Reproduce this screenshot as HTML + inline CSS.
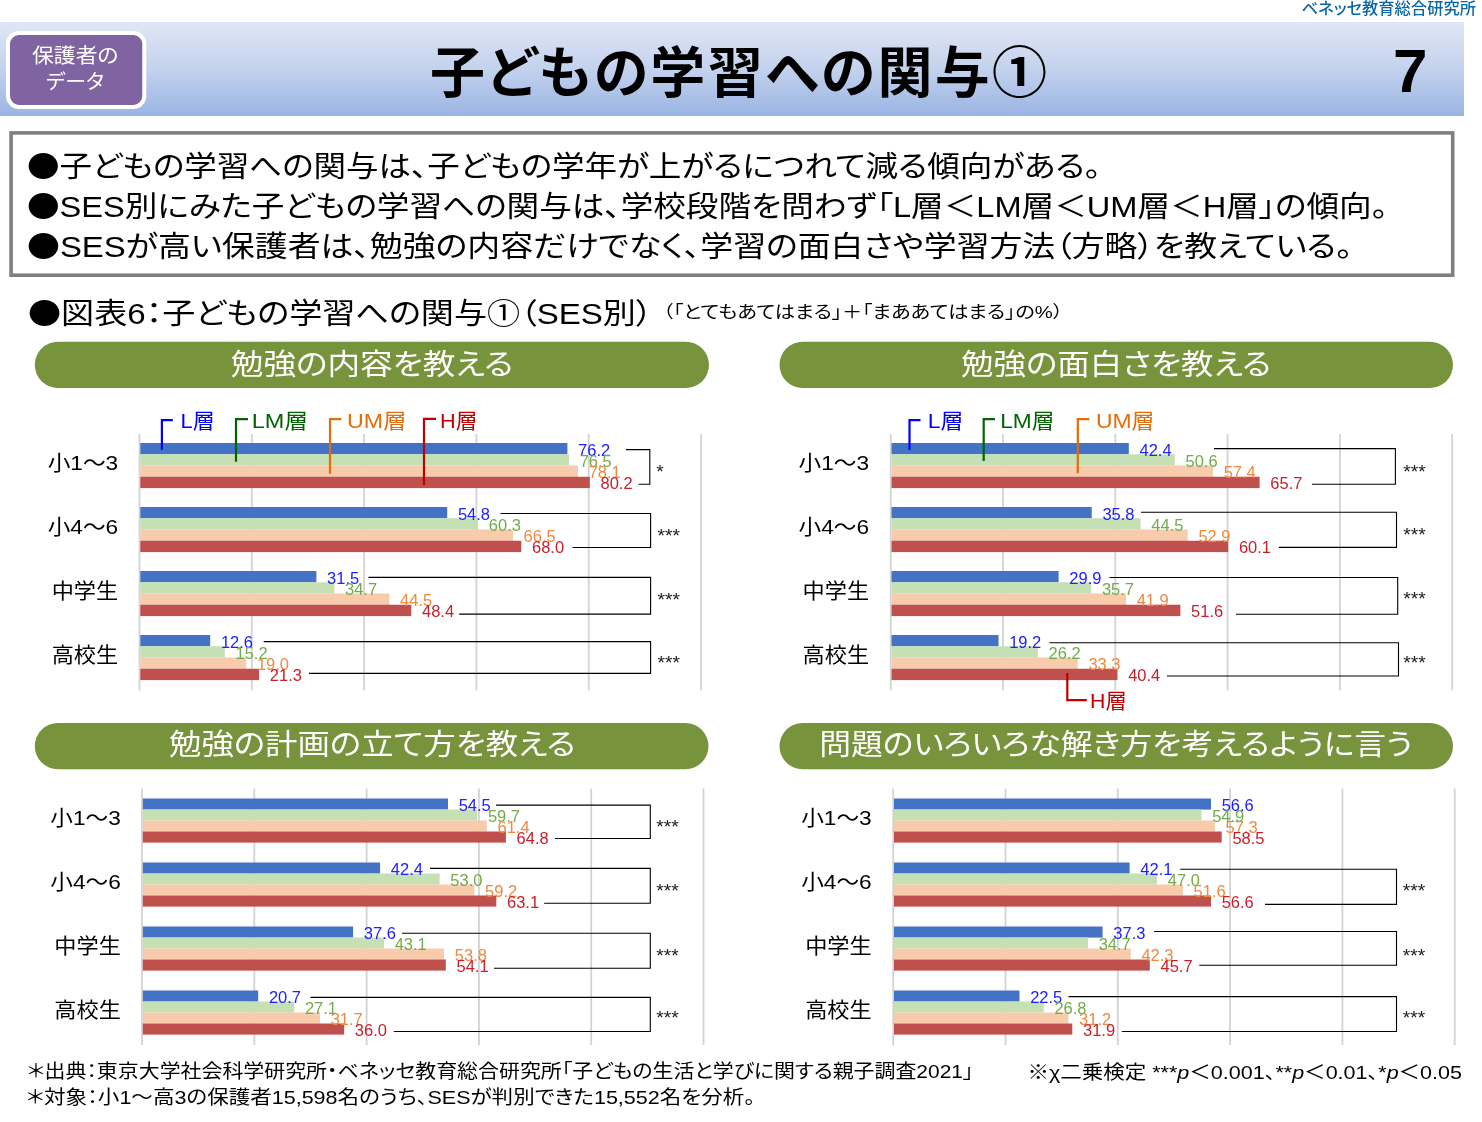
<!DOCTYPE html>
<html lang="ja"><head><meta charset="utf-8"><title>子どもの学習への関与①</title>
<style>
html,body{margin:0;padding:0;background:#fff;}
body{width:1482px;height:1122px;overflow:hidden;}
svg{display:block;}
text{font-family:"Liberation Sans", "Noto Sans CJK JP", sans-serif;font-feature-settings:"palt" 1;white-space:pre;}
text.n{font-family:"Liberation Sans", sans-serif;font-feature-settings:normal;}
</style></head><body>
<svg width="1482" height="1122" viewBox="0 0 1482 1122">
<defs><linearGradient id="bg" x1="0" y1="0" x2="0" y2="1"><stop offset="0" stop-color="#e1e6f5"/><stop offset="0.5" stop-color="#c3d2ed"/><stop offset="1" stop-color="#9ab4e3"/></linearGradient></defs>
<rect x="0" y="22" width="1464" height="94" fill="url(#bg)"/>
<rect x="8" y="33" width="136.3" height="74" rx="11" ry="11" fill="#8064a2" stroke="#fff" stroke-width="4"/>
<text x="1301.5" y="13.6" font-size="15.8" fill="#0b66a8" textLength="174.5" lengthAdjust="spacingAndGlyphs" font-weight="500">ベネッセ教育総合研究所</text>
<text x="32.0" y="63.3" font-size="20.5" fill="#fff" textLength="86.5" lengthAdjust="spacingAndGlyphs">保護者の</text>
<text x="46.0" y="89.0" font-size="20.5" fill="#fff" textLength="58.0" lengthAdjust="spacingAndGlyphs">データ</text>
<text x="430.0" y="91.5" font-size="55" fill="#000" textLength="617.0" lengthAdjust="spacing" font-weight="bold">子どもの学習への関与①</text>
<text x="1393.0" y="92.3" font-size="62" fill="#000" font-weight="bold">7</text>
<rect x="11.1" y="132.9" width="1441.6" height="142.3" fill="#fff" stroke="#7f7f7f" stroke-width="3.6"/>
<text x="27.0" y="176.5" font-size="29" fill="#000" textLength="1074.0" lengthAdjust="spacingAndGlyphs"><tspan font-family="Noto Sans CJK JP, sans-serif">●</tspan>子どもの学習への関与は、子どもの学年が上がるにつれて減る傾向がある。</text>
<text x="27.0" y="217.3" font-size="29" fill="#000" textLength="1361.0" lengthAdjust="spacingAndGlyphs"><tspan font-family="Noto Sans CJK JP, sans-serif">●</tspan>SES別にみた子どもの学習への関与は、学校段階を問わず「L層＜LM層＜UM層＜H層」の傾向。</text>
<text x="27.0" y="257.2" font-size="29" fill="#000" textLength="1325.5" lengthAdjust="spacingAndGlyphs"><tspan font-family="Noto Sans CJK JP, sans-serif">●</tspan>SESが高い保護者は、勉強の内容だけでなく、学習の面白さや学習方法（方略）を教えている。</text>
<text x="28.0" y="323.5" font-size="29" fill="#000" textLength="624.5" lengthAdjust="spacingAndGlyphs"><tspan font-family="Noto Sans CJK JP, sans-serif">●</tspan>図表6：子どもの学習への関与①（SES別）</text>
<text x="663.0" y="317.7" font-size="17" fill="#000" textLength="400.0" lengthAdjust="spacingAndGlyphs">（「とてもあてはまる」＋「まああてはまる」の%）</text>
<rect x="34.8" y="341.7" width="674.2" height="46.30000000000001" rx="23.150000000000006" ry="23.150000000000006" fill="#77933c"/>
<text x="230.8" y="374.5" font-size="29" fill="#fff" textLength="282.4" lengthAdjust="spacingAndGlyphs">勉強の内容を教える</text>
<rect x="779.5" y="341.7" width="673.5" height="46.30000000000001" rx="23.150000000000006" ry="23.150000000000006" fill="#77933c"/>
<text x="961.0" y="374.5" font-size="29" fill="#fff" textLength="310.0" lengthAdjust="spacingAndGlyphs">勉強の面白さを教える</text>
<rect x="34.8" y="723.1" width="673.7" height="46.19999999999993" rx="23.099999999999966" ry="23.099999999999966" fill="#77933c"/>
<text x="169.0" y="755.3" font-size="29" fill="#fff" textLength="406.5" lengthAdjust="spacingAndGlyphs">勉強の計画の立て方を教える</text>
<rect x="779.5" y="723.1" width="673.5" height="46.19999999999993" rx="23.099999999999966" ry="23.099999999999966" fill="#77933c"/>
<text x="819.2" y="755.3" font-size="29" fill="#fff" textLength="593.4" lengthAdjust="spacingAndGlyphs">問題のいろいろな解き方を考えるように言う</text>
<rect x="138.60" y="434" width="1.8" height="256.5" fill="#d3d3d3"/>
<rect x="250.90" y="434" width="1.8" height="256.5" fill="#d3d3d3"/>
<rect x="363.20" y="434" width="1.8" height="256.5" fill="#d3d3d3"/>
<rect x="475.50" y="434" width="1.8" height="256.5" fill="#d3d3d3"/>
<rect x="587.80" y="434" width="1.8" height="256.5" fill="#d3d3d3"/>
<rect x="700.10" y="434" width="1.8" height="256.5" fill="#d3d3d3"/>
<rect x="140.3" y="443.00" width="427.1" height="11.35" fill="#4472c4"/>
<rect x="140.3" y="454.25" width="428.7" height="11.35" fill="#c5e0b4"/>
<rect x="140.3" y="465.50" width="437.7" height="11.35" fill="#f8cbad"/>
<rect x="140.3" y="476.75" width="449.5" height="11.35" fill="#c0504d"/>
<text x="578.1" y="455.6" font-size="15.8" fill="#2020ff" textLength="32.1" lengthAdjust="spacingAndGlyphs" class="n">76.2</text>
<text x="579.7" y="466.7" font-size="15.8" fill="#70ad47" textLength="32.1" lengthAdjust="spacingAndGlyphs" class="n">76.5</text>
<text x="588.7" y="477.7" font-size="15.8" fill="#f0883e" textLength="32.1" lengthAdjust="spacingAndGlyphs" class="n">78.1</text>
<text x="600.5" y="488.7" font-size="15.8" fill="#c8202c" textLength="32.1" lengthAdjust="spacingAndGlyphs" class="n">80.2</text>
<text x="47.7" y="470.0" font-size="21" fill="#000" textLength="70.5" lengthAdjust="spacingAndGlyphs">小1～3</text>
<rect x="140.3" y="507.00" width="306.9" height="11.35" fill="#4472c4"/>
<rect x="140.3" y="518.25" width="337.8" height="11.35" fill="#c5e0b4"/>
<rect x="140.3" y="529.50" width="372.6" height="11.35" fill="#f8cbad"/>
<rect x="140.3" y="540.75" width="381.0" height="11.35" fill="#c0504d"/>
<text x="457.9" y="519.6" font-size="15.8" fill="#2020ff" textLength="32.1" lengthAdjust="spacingAndGlyphs" class="n">54.8</text>
<text x="488.8" y="530.7" font-size="15.8" fill="#70ad47" textLength="32.1" lengthAdjust="spacingAndGlyphs" class="n">60.3</text>
<text x="523.6" y="541.7" font-size="15.8" fill="#f0883e" textLength="32.1" lengthAdjust="spacingAndGlyphs" class="n">66.5</text>
<text x="532.0" y="552.7" font-size="15.8" fill="#c8202c" textLength="32.1" lengthAdjust="spacingAndGlyphs" class="n">68.0</text>
<text x="47.7" y="534.0" font-size="21" fill="#000" textLength="70.5" lengthAdjust="spacingAndGlyphs">小4～6</text>
<rect x="140.3" y="571.00" width="176.1" height="11.35" fill="#4472c4"/>
<rect x="140.3" y="582.25" width="194.0" height="11.35" fill="#c5e0b4"/>
<rect x="140.3" y="593.50" width="249.1" height="11.35" fill="#f8cbad"/>
<rect x="140.3" y="604.75" width="271.0" height="11.35" fill="#c0504d"/>
<text x="327.1" y="583.6" font-size="15.8" fill="#2020ff" textLength="32.1" lengthAdjust="spacingAndGlyphs" class="n">31.5</text>
<text x="345.0" y="594.7" font-size="15.8" fill="#70ad47" textLength="32.1" lengthAdjust="spacingAndGlyphs" class="n">34.7</text>
<text x="400.1" y="605.7" font-size="15.8" fill="#f0883e" textLength="32.1" lengthAdjust="spacingAndGlyphs" class="n">44.5</text>
<text x="422.0" y="616.7" font-size="15.8" fill="#c8202c" textLength="32.1" lengthAdjust="spacingAndGlyphs" class="n">48.4</text>
<text x="51.7" y="598.0" font-size="21" fill="#000" textLength="66.5" lengthAdjust="spacingAndGlyphs">中学生</text>
<rect x="140.3" y="635.00" width="69.9" height="11.35" fill="#4472c4"/>
<rect x="140.3" y="646.25" width="84.5" height="11.35" fill="#c5e0b4"/>
<rect x="140.3" y="657.50" width="105.9" height="11.35" fill="#f8cbad"/>
<rect x="140.3" y="668.75" width="118.8" height="11.35" fill="#c0504d"/>
<text x="220.9" y="647.6" font-size="15.8" fill="#2020ff" textLength="32.1" lengthAdjust="spacingAndGlyphs" class="n">12.6</text>
<text x="235.5" y="658.7" font-size="15.8" fill="#70ad47" textLength="32.1" lengthAdjust="spacingAndGlyphs" class="n">15.2</text>
<text x="256.9" y="669.7" font-size="15.8" fill="#f0883e" textLength="32.1" lengthAdjust="spacingAndGlyphs" class="n">19.0</text>
<text x="269.8" y="680.7" font-size="15.8" fill="#c8202c" textLength="32.1" lengthAdjust="spacingAndGlyphs" class="n">21.3</text>
<text x="51.7" y="662.0" font-size="21" fill="#000" textLength="66.5" lengthAdjust="spacingAndGlyphs">高校生</text>
<rect x="889.80" y="434" width="1.8" height="256.5" fill="#d3d3d3"/>
<rect x="1002.10" y="434" width="1.8" height="256.5" fill="#d3d3d3"/>
<rect x="1114.40" y="434" width="1.8" height="256.5" fill="#d3d3d3"/>
<rect x="1226.70" y="434" width="1.8" height="256.5" fill="#d3d3d3"/>
<rect x="1339.00" y="434" width="1.8" height="256.5" fill="#d3d3d3"/>
<rect x="1451.30" y="434" width="1.8" height="256.5" fill="#d3d3d3"/>
<rect x="891.5" y="443.00" width="237.3" height="11.35" fill="#4472c4"/>
<rect x="891.5" y="454.25" width="283.3" height="11.35" fill="#c5e0b4"/>
<rect x="891.5" y="465.50" width="321.5" height="11.35" fill="#f8cbad"/>
<rect x="891.5" y="476.75" width="368.1" height="11.35" fill="#c0504d"/>
<text x="1139.5" y="455.6" font-size="15.8" fill="#2020ff" textLength="32.1" lengthAdjust="spacingAndGlyphs" class="n">42.4</text>
<text x="1185.5" y="466.7" font-size="15.8" fill="#70ad47" textLength="32.1" lengthAdjust="spacingAndGlyphs" class="n">50.6</text>
<text x="1223.7" y="477.7" font-size="15.8" fill="#f0883e" textLength="32.1" lengthAdjust="spacingAndGlyphs" class="n">57.4</text>
<text x="1270.3" y="488.7" font-size="15.8" fill="#c8202c" textLength="32.1" lengthAdjust="spacingAndGlyphs" class="n">65.7</text>
<text x="798.6" y="470.0" font-size="21" fill="#000" textLength="70.5" lengthAdjust="spacingAndGlyphs">小1～3</text>
<rect x="891.5" y="507.00" width="200.2" height="11.35" fill="#4472c4"/>
<rect x="891.5" y="518.25" width="249.1" height="11.35" fill="#c5e0b4"/>
<rect x="891.5" y="529.50" width="296.2" height="11.35" fill="#f8cbad"/>
<rect x="891.5" y="540.75" width="336.7" height="11.35" fill="#c0504d"/>
<text x="1102.4" y="519.6" font-size="15.8" fill="#2020ff" textLength="32.1" lengthAdjust="spacingAndGlyphs" class="n">35.8</text>
<text x="1151.3" y="530.7" font-size="15.8" fill="#70ad47" textLength="32.1" lengthAdjust="spacingAndGlyphs" class="n">44.5</text>
<text x="1198.4" y="541.7" font-size="15.8" fill="#f0883e" textLength="32.1" lengthAdjust="spacingAndGlyphs" class="n">52.9</text>
<text x="1238.9" y="552.7" font-size="15.8" fill="#c8202c" textLength="32.1" lengthAdjust="spacingAndGlyphs" class="n">60.1</text>
<text x="798.6" y="534.0" font-size="21" fill="#000" textLength="70.5" lengthAdjust="spacingAndGlyphs">小4～6</text>
<rect x="891.5" y="571.00" width="167.1" height="11.35" fill="#4472c4"/>
<rect x="891.5" y="582.25" width="199.7" height="11.35" fill="#c5e0b4"/>
<rect x="891.5" y="593.50" width="234.5" height="11.35" fill="#f8cbad"/>
<rect x="891.5" y="604.75" width="288.9" height="11.35" fill="#c0504d"/>
<text x="1069.3" y="583.6" font-size="15.8" fill="#2020ff" textLength="32.1" lengthAdjust="spacingAndGlyphs" class="n">29.9</text>
<text x="1101.9" y="594.7" font-size="15.8" fill="#70ad47" textLength="32.1" lengthAdjust="spacingAndGlyphs" class="n">35.7</text>
<text x="1136.7" y="605.7" font-size="15.8" fill="#f0883e" textLength="32.1" lengthAdjust="spacingAndGlyphs" class="n">41.9</text>
<text x="1191.1" y="616.7" font-size="15.8" fill="#c8202c" textLength="32.1" lengthAdjust="spacingAndGlyphs" class="n">51.6</text>
<text x="802.6" y="598.0" font-size="21" fill="#000" textLength="66.5" lengthAdjust="spacingAndGlyphs">中学生</text>
<rect x="891.5" y="635.00" width="107.0" height="11.35" fill="#4472c4"/>
<rect x="891.5" y="646.25" width="146.3" height="11.35" fill="#c5e0b4"/>
<rect x="891.5" y="657.50" width="186.2" height="11.35" fill="#f8cbad"/>
<rect x="891.5" y="668.75" width="226.0" height="11.35" fill="#c0504d"/>
<text x="1009.2" y="647.6" font-size="15.8" fill="#2020ff" textLength="32.1" lengthAdjust="spacingAndGlyphs" class="n">19.2</text>
<text x="1048.5" y="658.7" font-size="15.8" fill="#70ad47" textLength="32.1" lengthAdjust="spacingAndGlyphs" class="n">26.2</text>
<text x="1088.4" y="669.7" font-size="15.8" fill="#f0883e" textLength="32.1" lengthAdjust="spacingAndGlyphs" class="n">33.3</text>
<text x="1128.2" y="680.7" font-size="15.8" fill="#c8202c" textLength="32.1" lengthAdjust="spacingAndGlyphs" class="n">40.4</text>
<text x="802.6" y="662.0" font-size="21" fill="#000" textLength="66.5" lengthAdjust="spacingAndGlyphs">高校生</text>
<rect x="141.10" y="788.5" width="1.8" height="256.5" fill="#d3d3d3"/>
<rect x="253.40" y="788.5" width="1.8" height="256.5" fill="#d3d3d3"/>
<rect x="365.70" y="788.5" width="1.8" height="256.5" fill="#d3d3d3"/>
<rect x="478.00" y="788.5" width="1.8" height="256.5" fill="#d3d3d3"/>
<rect x="590.30" y="788.5" width="1.8" height="256.5" fill="#d3d3d3"/>
<rect x="702.60" y="788.5" width="1.8" height="256.5" fill="#d3d3d3"/>
<rect x="142.8" y="798.50" width="305.2" height="11.10" fill="#4472c4"/>
<rect x="142.8" y="809.50" width="334.4" height="11.10" fill="#c5e0b4"/>
<rect x="142.8" y="820.50" width="344.0" height="11.10" fill="#f8cbad"/>
<rect x="142.8" y="831.50" width="363.1" height="11.10" fill="#c0504d"/>
<text x="458.7" y="810.8" font-size="15.8" fill="#2020ff" textLength="32.1" lengthAdjust="spacingAndGlyphs" class="n">54.5</text>
<text x="487.9" y="821.8" font-size="15.8" fill="#70ad47" textLength="32.1" lengthAdjust="spacingAndGlyphs" class="n">59.7</text>
<text x="497.5" y="832.9" font-size="15.8" fill="#f0883e" textLength="32.1" lengthAdjust="spacingAndGlyphs" class="n">61.4</text>
<text x="516.6" y="844.0" font-size="15.8" fill="#c8202c" textLength="32.1" lengthAdjust="spacingAndGlyphs" class="n">64.8</text>
<text x="50.3" y="825.0" font-size="21" fill="#000" textLength="70.5" lengthAdjust="spacingAndGlyphs">小1～3</text>
<rect x="142.8" y="862.50" width="237.3" height="11.10" fill="#4472c4"/>
<rect x="142.8" y="873.50" width="296.8" height="11.10" fill="#c5e0b4"/>
<rect x="142.8" y="884.50" width="331.6" height="11.10" fill="#f8cbad"/>
<rect x="142.8" y="895.50" width="353.5" height="11.10" fill="#c0504d"/>
<text x="390.8" y="874.8" font-size="15.8" fill="#2020ff" textLength="32.1" lengthAdjust="spacingAndGlyphs" class="n">42.4</text>
<text x="450.3" y="885.8" font-size="15.8" fill="#70ad47" textLength="32.1" lengthAdjust="spacingAndGlyphs" class="n">53.0</text>
<text x="485.1" y="896.9" font-size="15.8" fill="#f0883e" textLength="32.1" lengthAdjust="spacingAndGlyphs" class="n">59.2</text>
<text x="507.0" y="908.0" font-size="15.8" fill="#c8202c" textLength="32.1" lengthAdjust="spacingAndGlyphs" class="n">63.1</text>
<text x="50.3" y="889.0" font-size="21" fill="#000" textLength="70.5" lengthAdjust="spacingAndGlyphs">小4～6</text>
<rect x="142.8" y="926.50" width="210.3" height="11.10" fill="#4472c4"/>
<rect x="142.8" y="937.50" width="241.2" height="11.10" fill="#c5e0b4"/>
<rect x="142.8" y="948.50" width="301.3" height="11.10" fill="#f8cbad"/>
<rect x="142.8" y="959.50" width="303.0" height="11.10" fill="#c0504d"/>
<text x="363.8" y="938.8" font-size="15.8" fill="#2020ff" textLength="32.1" lengthAdjust="spacingAndGlyphs" class="n">37.6</text>
<text x="394.7" y="949.8" font-size="15.8" fill="#70ad47" textLength="32.1" lengthAdjust="spacingAndGlyphs" class="n">43.1</text>
<text x="454.8" y="960.9" font-size="15.8" fill="#f0883e" textLength="32.1" lengthAdjust="spacingAndGlyphs" class="n">53.8</text>
<text x="456.5" y="972.0" font-size="15.8" fill="#c8202c" textLength="32.1" lengthAdjust="spacingAndGlyphs" class="n">54.1</text>
<text x="54.3" y="953.0" font-size="21" fill="#000" textLength="66.5" lengthAdjust="spacingAndGlyphs">中学生</text>
<rect x="142.8" y="990.50" width="115.4" height="11.10" fill="#4472c4"/>
<rect x="142.8" y="1001.50" width="151.4" height="11.10" fill="#c5e0b4"/>
<rect x="142.8" y="1012.50" width="177.2" height="11.10" fill="#f8cbad"/>
<rect x="142.8" y="1023.50" width="201.3" height="11.10" fill="#c0504d"/>
<text x="268.9" y="1002.8" font-size="15.8" fill="#2020ff" textLength="32.1" lengthAdjust="spacingAndGlyphs" class="n">20.7</text>
<text x="304.9" y="1013.8" font-size="15.8" fill="#70ad47" textLength="32.1" lengthAdjust="spacingAndGlyphs" class="n">27.1</text>
<text x="330.7" y="1024.9" font-size="15.8" fill="#f0883e" textLength="32.1" lengthAdjust="spacingAndGlyphs" class="n">31.7</text>
<text x="354.8" y="1036.0" font-size="15.8" fill="#c8202c" textLength="32.1" lengthAdjust="spacingAndGlyphs" class="n">36.0</text>
<text x="54.3" y="1017.0" font-size="21" fill="#000" textLength="66.5" lengthAdjust="spacingAndGlyphs">高校生</text>
<rect x="892.30" y="788.5" width="1.8" height="256.5" fill="#d3d3d3"/>
<rect x="1004.60" y="788.5" width="1.8" height="256.5" fill="#d3d3d3"/>
<rect x="1116.90" y="788.5" width="1.8" height="256.5" fill="#d3d3d3"/>
<rect x="1229.20" y="788.5" width="1.8" height="256.5" fill="#d3d3d3"/>
<rect x="1341.50" y="788.5" width="1.8" height="256.5" fill="#d3d3d3"/>
<rect x="1453.80" y="788.5" width="1.8" height="256.5" fill="#d3d3d3"/>
<rect x="894.0" y="798.50" width="317.0" height="11.10" fill="#4472c4"/>
<rect x="894.0" y="809.50" width="307.5" height="11.10" fill="#c5e0b4"/>
<rect x="894.0" y="820.50" width="320.9" height="11.10" fill="#f8cbad"/>
<rect x="894.0" y="831.50" width="327.7" height="11.10" fill="#c0504d"/>
<text x="1221.7" y="810.8" font-size="15.8" fill="#2020ff" textLength="32.1" lengthAdjust="spacingAndGlyphs" class="n">56.6</text>
<text x="1212.2" y="821.8" font-size="15.8" fill="#70ad47" textLength="32.1" lengthAdjust="spacingAndGlyphs" class="n">54.9</text>
<text x="1225.6" y="832.9" font-size="15.8" fill="#f0883e" textLength="32.1" lengthAdjust="spacingAndGlyphs" class="n">57.3</text>
<text x="1232.4" y="844.0" font-size="15.8" fill="#c8202c" textLength="32.1" lengthAdjust="spacingAndGlyphs" class="n">58.5</text>
<text x="801.2" y="825.0" font-size="21" fill="#000" textLength="70.5" lengthAdjust="spacingAndGlyphs">小1～3</text>
<rect x="894.0" y="862.50" width="235.6" height="11.10" fill="#4472c4"/>
<rect x="894.0" y="873.50" width="263.1" height="11.10" fill="#c5e0b4"/>
<rect x="894.0" y="884.50" width="288.9" height="11.10" fill="#f8cbad"/>
<rect x="894.0" y="895.50" width="317.0" height="11.10" fill="#c0504d"/>
<text x="1140.3" y="874.8" font-size="15.8" fill="#2020ff" textLength="32.1" lengthAdjust="spacingAndGlyphs" class="n">42.1</text>
<text x="1167.8" y="885.8" font-size="15.8" fill="#70ad47" textLength="32.1" lengthAdjust="spacingAndGlyphs" class="n">47.0</text>
<text x="1193.6" y="896.9" font-size="15.8" fill="#f0883e" textLength="32.1" lengthAdjust="spacingAndGlyphs" class="n">51.6</text>
<text x="1221.7" y="908.0" font-size="15.8" fill="#c8202c" textLength="32.1" lengthAdjust="spacingAndGlyphs" class="n">56.6</text>
<text x="801.2" y="889.0" font-size="21" fill="#000" textLength="70.5" lengthAdjust="spacingAndGlyphs">小4～6</text>
<rect x="894.0" y="926.50" width="208.6" height="11.10" fill="#4472c4"/>
<rect x="894.0" y="937.50" width="194.0" height="11.10" fill="#c5e0b4"/>
<rect x="894.0" y="948.50" width="236.7" height="11.10" fill="#f8cbad"/>
<rect x="894.0" y="959.50" width="255.8" height="11.10" fill="#c0504d"/>
<text x="1113.3" y="938.8" font-size="15.8" fill="#2020ff" textLength="32.1" lengthAdjust="spacingAndGlyphs" class="n">37.3</text>
<text x="1098.7" y="949.8" font-size="15.8" fill="#70ad47" textLength="32.1" lengthAdjust="spacingAndGlyphs" class="n">34.7</text>
<text x="1141.4" y="960.9" font-size="15.8" fill="#f0883e" textLength="32.1" lengthAdjust="spacingAndGlyphs" class="n">42.3</text>
<text x="1160.5" y="972.0" font-size="15.8" fill="#c8202c" textLength="32.1" lengthAdjust="spacingAndGlyphs" class="n">45.7</text>
<text x="805.2" y="953.0" font-size="21" fill="#000" textLength="66.5" lengthAdjust="spacingAndGlyphs">中学生</text>
<rect x="894.0" y="990.50" width="125.5" height="11.10" fill="#4472c4"/>
<rect x="894.0" y="1001.50" width="149.7" height="11.10" fill="#c5e0b4"/>
<rect x="894.0" y="1012.50" width="174.4" height="11.10" fill="#f8cbad"/>
<rect x="894.0" y="1023.50" width="178.3" height="11.10" fill="#c0504d"/>
<text x="1030.2" y="1002.8" font-size="15.8" fill="#2020ff" textLength="32.1" lengthAdjust="spacingAndGlyphs" class="n">22.5</text>
<text x="1054.4" y="1013.8" font-size="15.8" fill="#70ad47" textLength="32.1" lengthAdjust="spacingAndGlyphs" class="n">26.8</text>
<text x="1079.1" y="1024.9" font-size="15.8" fill="#f0883e" textLength="32.1" lengthAdjust="spacingAndGlyphs" class="n">31.2</text>
<text x="1083.0" y="1036.0" font-size="15.8" fill="#c8202c" textLength="32.1" lengthAdjust="spacingAndGlyphs" class="n">31.9</text>
<text x="805.2" y="1017.0" font-size="21" fill="#000" textLength="66.5" lengthAdjust="spacingAndGlyphs">高校生</text>
<path d="M626.0 449.6H649.8V484.2H638.6" fill="none" stroke="#000" stroke-width="1.1"/>
<text x="656.3" y="477.6" font-size="18" fill="#222" textLength="7.5" lengthAdjust="spacingAndGlyphs" class="n">*</text>
<path d="M500.5 513.5H650.6V547.5H572.6" fill="none" stroke="#000" stroke-width="1.1"/>
<text x="657.5" y="541.6" font-size="18" fill="#222" textLength="22.5" lengthAdjust="spacingAndGlyphs" class="n">***</text>
<path d="M368.5 577.4H650.6V614.1H459.2" fill="none" stroke="#000" stroke-width="1.1"/>
<text x="657.5" y="605.6" font-size="18" fill="#222" textLength="22.5" lengthAdjust="spacingAndGlyphs" class="n">***</text>
<path d="M263.7 641.6H650.6V673.4H309.0" fill="none" stroke="#000" stroke-width="1.1"/>
<text x="657.5" y="668.6" font-size="18" fill="#222" textLength="22.5" lengthAdjust="spacingAndGlyphs" class="n">***</text>
<path d="M1214.0 448.6H1395.4V484.2H1311.9" fill="none" stroke="#000" stroke-width="1.1"/>
<text x="1403.2" y="477.5" font-size="18" fill="#222" textLength="22.5" lengthAdjust="spacingAndGlyphs" class="n">***</text>
<path d="M1141.0 512.3H1396.5V547.4H1278.9" fill="none" stroke="#000" stroke-width="1.1"/>
<text x="1403.2" y="541.2" font-size="18" fill="#222" textLength="22.5" lengthAdjust="spacingAndGlyphs" class="n">***</text>
<path d="M1109.5 577.5H1397.7V614.3H1236.0" fill="none" stroke="#000" stroke-width="1.1"/>
<text x="1403.2" y="605.0" font-size="18" fill="#222" textLength="22.5" lengthAdjust="spacingAndGlyphs" class="n">***</text>
<path d="M1049.5 642.7H1398.5V676.0H1167.0" fill="none" stroke="#000" stroke-width="1.1"/>
<text x="1403.2" y="668.7" font-size="18" fill="#222" textLength="22.5" lengthAdjust="spacingAndGlyphs" class="n">***</text>
<path d="M496.1 805.1H650.3V838.5H555.0" fill="none" stroke="#000" stroke-width="1.1"/>
<text x="656.3" y="832.9" font-size="18" fill="#222" textLength="22.5" lengthAdjust="spacingAndGlyphs" class="n">***</text>
<path d="M430.0 868.4H650.3V903.3H544.1" fill="none" stroke="#000" stroke-width="1.1"/>
<text x="656.3" y="896.6" font-size="18" fill="#222" textLength="22.5" lengthAdjust="spacingAndGlyphs" class="n">***</text>
<path d="M402.0 933.3H650.3V968.2H494.0" fill="none" stroke="#000" stroke-width="1.1"/>
<text x="656.3" y="961.6" font-size="18" fill="#222" textLength="22.5" lengthAdjust="spacingAndGlyphs" class="n">***</text>
<path d="M310.4 997.4H650.3V1031.5H393.8" fill="none" stroke="#000" stroke-width="1.1"/>
<text x="656.3" y="1024.1" font-size="18" fill="#222" textLength="22.5" lengthAdjust="spacingAndGlyphs" class="n">***</text>
<path d="M1180.2 869.2H1396.5V904.4H1265.0" fill="none" stroke="#000" stroke-width="1.1"/>
<text x="1402.7" y="896.7" font-size="18" fill="#222" textLength="22.5" lengthAdjust="spacingAndGlyphs" class="n">***</text>
<path d="M1154.1 931.5H1396.5V965.3H1199.3" fill="none" stroke="#000" stroke-width="1.1"/>
<text x="1402.7" y="961.5" font-size="18" fill="#222" textLength="22.5" lengthAdjust="spacingAndGlyphs" class="n">***</text>
<path d="M1068.5 996.6H1396.5V1031.5H1121.8" fill="none" stroke="#000" stroke-width="1.1"/>
<text x="1402.7" y="1024.1" font-size="18" fill="#222" textLength="22.5" lengthAdjust="spacingAndGlyphs" class="n">***</text>
<path d="M172.8 420.2H161.9V449.7" fill="none" stroke="#0000ff" stroke-width="2.2"/>
<text x="180.5" y="427.6" font-size="21" fill="#0000ff" textLength="34.2" lengthAdjust="spacingAndGlyphs">L層</text>
<path d="M248.0 419.2H236.0V461.7" fill="none" stroke="#006400" stroke-width="2.2"/>
<text x="251.8" y="427.6" font-size="21" fill="#006400" textLength="56.1" lengthAdjust="spacingAndGlyphs">LM層</text>
<path d="M341.3 419.2H330.0V473.8" fill="none" stroke="#e46c0a" stroke-width="2.2"/>
<text x="347.1" y="427.6" font-size="21" fill="#e46c0a" textLength="59.3" lengthAdjust="spacingAndGlyphs">UM層</text>
<path d="M436.0 418.8H424.0V485.0" fill="none" stroke="#c00000" stroke-width="2.2"/>
<text x="440.1" y="427.6" font-size="21" fill="#c00000" textLength="37.3" lengthAdjust="spacingAndGlyphs">H層</text>
<path d="M920.5 420.2H909.5V450.0" fill="none" stroke="#0000ff" stroke-width="2.2"/>
<text x="927.8" y="427.6" font-size="21" fill="#0000ff" textLength="35.6" lengthAdjust="spacingAndGlyphs">L層</text>
<path d="M995.0 419.2H983.7V461.0" fill="none" stroke="#006400" stroke-width="2.2"/>
<text x="1000.2" y="427.6" font-size="21" fill="#006400" textLength="54.2" lengthAdjust="spacingAndGlyphs">LM層</text>
<path d="M1089.4 419.2H1077.8V473.2" fill="none" stroke="#e46c0a" stroke-width="2.2"/>
<text x="1095.9" y="427.6" font-size="21" fill="#e46c0a" textLength="58.5" lengthAdjust="spacingAndGlyphs">UM層</text>
<path d="M1067.3 673.1V700.2H1086.8" fill="none" stroke="#c00000" stroke-width="2.2"/>
<text x="1090.1" y="708.3" font-size="21" fill="#c00000" textLength="36.7" lengthAdjust="spacingAndGlyphs">H層</text>
<text x="27.4" y="1078.3" font-size="19" fill="#000" textLength="946.0" lengthAdjust="spacingAndGlyphs">＊出典：東京大学社会科学研究所・ベネッセ教育総合研究所「子どもの生活と学びに関する親子調査2021」</text>
<text x="26.4" y="1103.9" font-size="19" fill="#000" textLength="728.6" lengthAdjust="spacingAndGlyphs">＊対象：小1～高3の保護者15,598名のうち、SESが判別できた15,552名を分析。</text>
<text x="1027.4" y="1078.6" font-size="19" fill="#000" textLength="434.6" lengthAdjust="spacingAndGlyphs">※χ二乗検定 ***<tspan font-style="italic">p</tspan>＜0.001、**<tspan font-style="italic">p</tspan>＜0.01、*<tspan font-style="italic">p</tspan>＜0.05</text>
</svg></body></html>
